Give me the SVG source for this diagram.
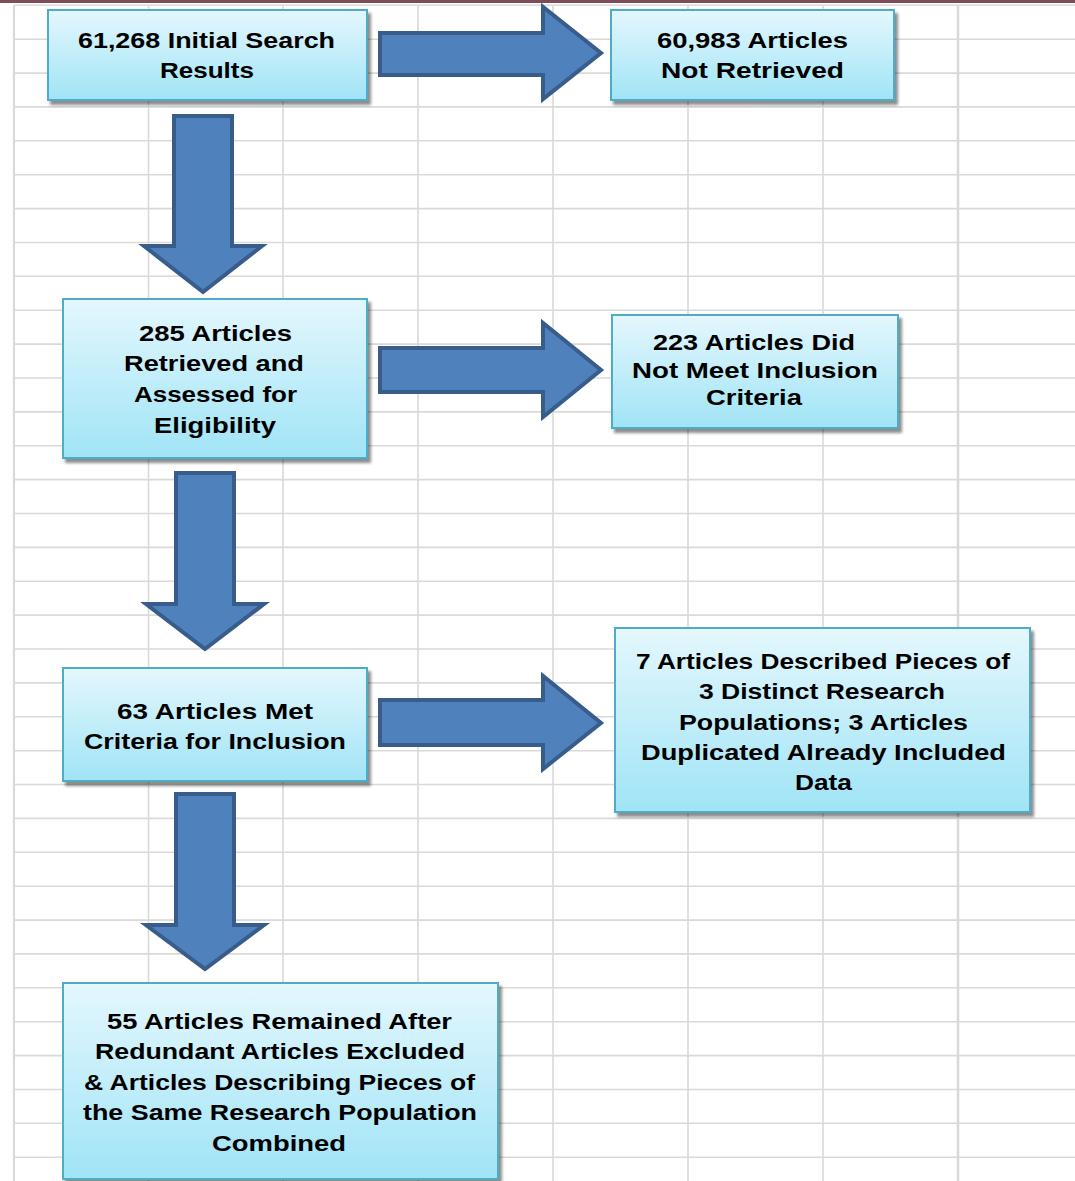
<svg xmlns="http://www.w3.org/2000/svg" width="1075" height="1181" viewBox="0 0 1075 1181">
<defs>
<linearGradient id="boxfill" x1="0" y1="0" x2="0" y2="1">
<stop offset="0" stop-color="#e4f7fd"/>
<stop offset="1" stop-color="#a0e4f6"/>
</linearGradient>
<filter id="shadow" x="-10%" y="-10%" width="130%" height="130%">
<feGaussianBlur in="SourceAlpha" stdDeviation="1.5"/>
<feOffset dx="3" dy="4" result="b"/>
<feComponentTransfer><feFuncA type="linear" slope="0.45"/></feComponentTransfer>
<feMerge><feMergeNode/><feMergeNode in="SourceGraphic"/></feMerge>
</filter>
</defs>
<style>
.grid line{stroke:#d9d9d9;stroke-width:1.6}
.box{fill:url(#boxfill);stroke:#4eacc6;stroke-width:2;filter:url(#shadow)}
.arrow{fill:#4f81bd;stroke:#385d8a;stroke-width:4;stroke-linejoin:miter}
text{font-family:"Liberation Sans",Arial,sans-serif;font-weight:bold;font-size:22px;fill:#000;text-anchor:middle}
</style>
<rect width="1075" height="1181" fill="#ffffff"/>
<g class="grid">
<line x1="14" y1="5.3" x2="1075" y2="5.3"/>
<line x1="14" y1="39.2" x2="1075" y2="39.2"/>
<line x1="14" y1="73.1" x2="1075" y2="73.1"/>
<line x1="14" y1="106.9" x2="1075" y2="106.9"/>
<line x1="14" y1="140.8" x2="1075" y2="140.8"/>
<line x1="14" y1="174.7" x2="1075" y2="174.7"/>
<line x1="14" y1="208.6" x2="1075" y2="208.6"/>
<line x1="14" y1="242.5" x2="1075" y2="242.5"/>
<line x1="14" y1="276.3" x2="1075" y2="276.3"/>
<line x1="14" y1="310.2" x2="1075" y2="310.2"/>
<line x1="14" y1="344.1" x2="1075" y2="344.1"/>
<line x1="14" y1="378" x2="1075" y2="378"/>
<line x1="14" y1="411.9" x2="1075" y2="411.9"/>
<line x1="14" y1="445.7" x2="1075" y2="445.7"/>
<line x1="14" y1="479.6" x2="1075" y2="479.6"/>
<line x1="14" y1="513.5" x2="1075" y2="513.5"/>
<line x1="14" y1="547.4" x2="1075" y2="547.4"/>
<line x1="14" y1="581.3" x2="1075" y2="581.3"/>
<line x1="14" y1="615.1" x2="1075" y2="615.1"/>
<line x1="14" y1="649" x2="1075" y2="649"/>
<line x1="14" y1="682.9" x2="1075" y2="682.9"/>
<line x1="14" y1="716.8" x2="1075" y2="716.8"/>
<line x1="14" y1="750.7" x2="1075" y2="750.7"/>
<line x1="14" y1="784.5" x2="1075" y2="784.5"/>
<line x1="14" y1="818.4" x2="1075" y2="818.4"/>
<line x1="14" y1="852.3" x2="1075" y2="852.3"/>
<line x1="14" y1="886.2" x2="1075" y2="886.2"/>
<line x1="14" y1="920.1" x2="1075" y2="920.1"/>
<line x1="14" y1="953.9" x2="1075" y2="953.9"/>
<line x1="14" y1="987.8" x2="1075" y2="987.8"/>
<line x1="14" y1="1021.7" x2="1075" y2="1021.7"/>
<line x1="14" y1="1055.6" x2="1075" y2="1055.6"/>
<line x1="14" y1="1089.5" x2="1075" y2="1089.5"/>
<line x1="14" y1="1123.3" x2="1075" y2="1123.3"/>
<line x1="14" y1="1157.2" x2="1075" y2="1157.2"/>
<line x1="14" y1="5" x2="14" y2="1181" style="stroke-width:2.2"/>
<line x1="148.5" y1="5" x2="148.5" y2="1181"/>
<line x1="283" y1="5" x2="283" y2="1181"/>
<line x1="418" y1="5" x2="418" y2="1181"/>
<line x1="553" y1="5" x2="553" y2="1181"/>
<line x1="688" y1="5" x2="688" y2="1181"/>
<line x1="823" y1="5" x2="823" y2="1181"/>
<line x1="958" y1="5" x2="958" y2="1181" style="stroke-width:2.6"/>
</g>
<rect x="0" y="0" width="1075" height="3" fill="#7d4c57"/>
<g id="connectors">
<polygon class="arrow" points="380,33 543,33 543,7 601,53 543,99 543,75 380,75"/>
<polygon class="arrow" points="380,348 543,348 543,323 601,370 543,417 543,392 380,392"/>
<polygon class="arrow" points="380,700 543,700 543,676 601,723 543,769 543,745 380,745"/>
<polygon class="arrow" points="174,116 232,116 232,246 262,246 203,292 144,246 174,246"/>
<polygon class="arrow" points="176,473 234,473 234,604 264,604 205,649 146,604 176,604"/>
<polygon class="arrow" points="176,794 234,794 234,925 264,925 205,969 146,925 176,925"/>
</g>
<g id="node1">
<rect class="box" x="48" y="10" width="319" height="90"/>
<text x="206.5" y="48" textLength="257" lengthAdjust="spacingAndGlyphs">61,268  Initial Search</text>
<text x="207" y="78" textLength="94" lengthAdjust="spacingAndGlyphs">Results</text>
</g>
<g id="node2">
<rect class="box" x="611" y="10" width="283" height="90"/>
<text x="752.5" y="48" textLength="191" lengthAdjust="spacingAndGlyphs">60,983  Articles</text>
<text x="752.5" y="78" textLength="183" lengthAdjust="spacingAndGlyphs">Not Retrieved</text>
</g>
<g id="node3">
<rect class="box" x="63" y="299" width="304" height="159"/>
<text x="215.5" y="341" textLength="153" lengthAdjust="spacingAndGlyphs">285  Articles</text>
<text x="214" y="371" textLength="180" lengthAdjust="spacingAndGlyphs">Retrieved and</text>
<text x="215.5" y="402" textLength="163" lengthAdjust="spacingAndGlyphs">Assessed for</text>
<text x="215" y="433" textLength="122" lengthAdjust="spacingAndGlyphs">Eligibility</text>
</g>
<g id="node4">
<rect class="box" x="612" y="315" width="286" height="113"/>
<text x="754" y="350" textLength="202" lengthAdjust="spacingAndGlyphs">223  Articles Did</text>
<text x="755" y="378" textLength="246" lengthAdjust="spacingAndGlyphs">Not Meet Inclusion</text>
<text x="754" y="405" textLength="96" lengthAdjust="spacingAndGlyphs">Criteria</text>
</g>
<g id="node5">
<rect class="box" x="63" y="668" width="304" height="113"/>
<text x="215" y="719" textLength="196" lengthAdjust="spacingAndGlyphs">63 Articles Met</text>
<text x="215" y="749" textLength="262" lengthAdjust="spacingAndGlyphs">Criteria for Inclusion</text>
</g>
<g id="node6">
<rect class="box" x="615" y="628" width="415" height="184"/>
<text x="823" y="669" textLength="374" lengthAdjust="spacingAndGlyphs">7 Articles Described Pieces of</text>
<text x="822" y="699" textLength="246" lengthAdjust="spacingAndGlyphs">3 Distinct Research</text>
<text x="823.5" y="730" textLength="289" lengthAdjust="spacingAndGlyphs">Populations; 3 Articles</text>
<text x="823.5" y="760" textLength="365" lengthAdjust="spacingAndGlyphs">Duplicated Already Included</text>
<text x="823.5" y="790" textLength="57" lengthAdjust="spacingAndGlyphs">Data</text>
</g>
<g id="node7">
<rect class="box" x="63" y="983" width="435" height="196"/>
<text x="279.5" y="1029" textLength="345" lengthAdjust="spacingAndGlyphs">55 Articles Remained After</text>
<text x="280" y="1059" textLength="370" lengthAdjust="spacingAndGlyphs">Redundant Articles Excluded</text>
<text x="279.5" y="1090" textLength="391" lengthAdjust="spacingAndGlyphs">&amp; Articles Describing Pieces of</text>
<text x="280" y="1120" textLength="394" lengthAdjust="spacingAndGlyphs">the Same Research Population</text>
<text x="279" y="1151" textLength="134" lengthAdjust="spacingAndGlyphs">Combined</text>
</g>
</svg>
